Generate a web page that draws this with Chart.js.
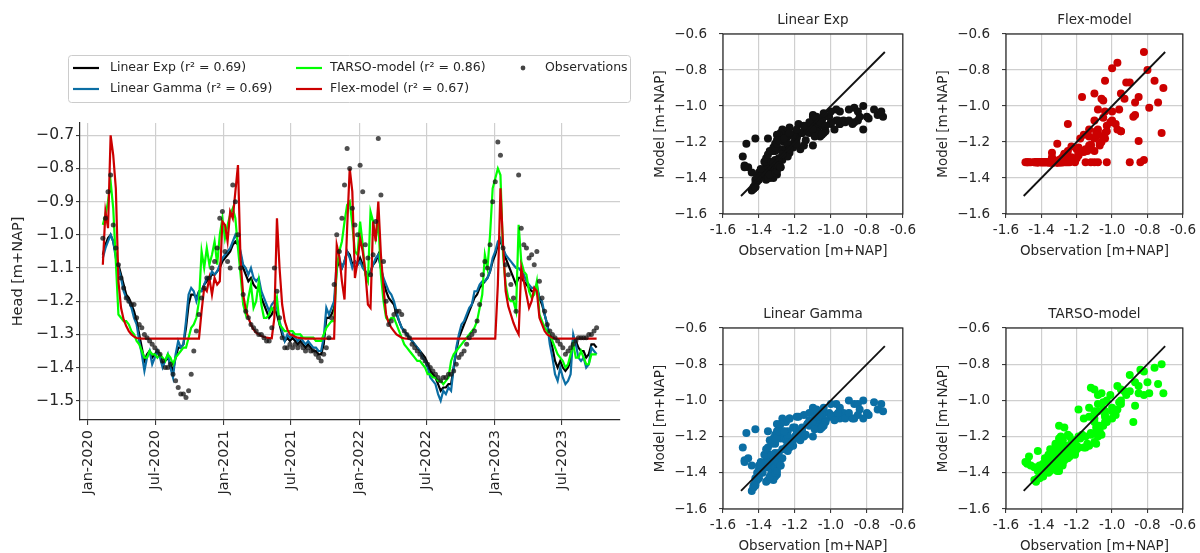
<!DOCTYPE html>
<html>
<head>
<meta charset="utf-8">
<script src="https://cdn.jsdelivr.net/npm/chart.js@4.4.1/dist/chart.umd.min.js"></script>
<style>
  html, body { margin: 0; padding: 0; background: #ffffff; width: 1200px; height: 553px; overflow: hidden; }
  canvas { position: absolute; }
</style>
</head>
<body>
<canvas id="heads" width="640" height="553" style="left:0px;top:0px"></canvas>
<canvas id="pExp" width="280" height="276" style="left:640px;top:0px"></canvas>
<canvas id="pFlex" width="280" height="276" style="left:920px;top:0px"></canvas>
<canvas id="pGamma" width="280" height="277" style="left:640px;top:276px"></canvas>
<canvas id="pTarso" width="280" height="277" style="left:920px;top:276px"></canvas>
<script>
// Weekly groundwater heads [m+NAP], first value on 2020-02-10
const firstDate = '2020-02-10';
const stepDays = 7;

const observed = [
  -1.01, -0.95, -0.87, -0.82, -0.97, -1.04, -1.09, -1.13, -1.16, -1.19,
  -1.20, -1.21, -1.21, -1.25, -1.27, -1.28, -1.30, -1.31, -1.32, -1.33,
  -1.34, -1.35, -1.36, -1.38, -1.40, -1.40, -1.39, -1.42, -1.44, -1.46,
  -1.48, -1.48, -1.49, -1.47, -1.42, -1.35, -1.29, -1.24, -1.19, -1.16,
  -1.13, -1.13, -1.10, -1.08, -1.04, -0.95, -0.93, -1.05, -1.08, -1.10,
  -0.85, -0.90, -1.00, -1.10, -1.18, -1.23, -1.25, -1.27, -1.28, -1.29,
  -1.30, -1.30, -1.31, -1.32, -1.32, -1.28, -1.10, -1.17, -1.25, -1.31,
  -1.34, -1.34, -1.33, -1.34, -1.33, -1.34, -1.33, -1.34, -1.35, -1.34,
  -1.35, -1.35, -1.36, -1.37, -1.38, -1.36, -1.34, -1.31, -1.25, -1.15,
  -1.00, -1.05, -0.95, -0.85, -0.74, -0.80, -0.92, -0.97, -1.00, -0.79,
  -0.87, -1.03, -1.07, -1.12, -1.06, -0.96, -0.71, -0.88, -1.08, -1.20,
  -1.27, -1.26, -1.24, -1.23, -1.23, -1.24, -1.29, -1.30, -1.31, -1.33,
  -1.34, -1.35, -1.36, -1.37, -1.38, -1.39, -1.40, -1.41, -1.42, -1.43,
  -1.44, -1.43, -1.43, -1.42, -1.42, -1.41, -1.39, -1.37, -1.36, -1.35,
  -1.33, -1.31, -1.30, -1.29, -1.26, -1.21, -1.12, -1.08, -1.10, -1.03,
  -0.90, -0.84, -0.72, -0.76, -1.04, -1.09, -1.12, -1.15, -1.19, -1.23,
  -0.82, -0.98, -1.03, -1.04, -1.07, -1.06, -1.09, -1.05, -1.14, -1.19,
  -1.23, -1.27, -1.29, -1.30, -1.31, -1.32, -1.33, -1.34, -1.36, -1.35,
  -1.34, -1.33, -1.32, -1.31, -1.31, -1.31, -1.31, -1.30, -1.30, -1.29,
  -1.28
];

const linearExp = [
  -1.06, -1.03, -1.01, -1.00, -1.02, -1.06, -1.09, -1.12, -1.15, -1.18,
  -1.19, -1.21, -1.23, -1.26, -1.30, -1.34, -1.38, -1.36, -1.35, -1.37,
  -1.36, -1.35, -1.36, -1.39, -1.38, -1.37, -1.39, -1.41, -1.37, -1.34,
  -1.34, -1.33, -1.28, -1.21, -1.18, -1.18, -1.19, -1.17, -1.17, -1.15,
  -1.14, -1.13, -1.12, -1.12, -1.11, -1.10, -1.08, -1.07, -1.06, -1.05,
  -1.03, -1.02, -1.03, -1.06, -1.10, -1.12, -1.14, -1.13, -1.15, -1.16,
  -1.16, -1.19, -1.21, -1.23, -1.25, -1.24, -1.22, -1.24, -1.27, -1.30,
  -1.32, -1.31, -1.32, -1.31, -1.32, -1.33, -1.32, -1.33, -1.34, -1.33,
  -1.34, -1.35, -1.35, -1.36, -1.36, -1.33, -1.25, -1.25, -1.24, -1.22,
  -1.10, -1.08, -1.10, -1.08, -1.05, -1.06, -1.09, -1.08, -1.09, -1.07,
  -1.09, -1.11, -1.12, -1.11, -1.09, -1.08, -1.06, -1.10, -1.14, -1.17,
  -1.19, -1.20, -1.21, -1.24, -1.26, -1.28, -1.29, -1.30, -1.31, -1.32,
  -1.33, -1.34, -1.35, -1.36, -1.37, -1.39, -1.41, -1.42, -1.43, -1.45,
  -1.47, -1.46, -1.46, -1.45, -1.45, -1.40, -1.35, -1.31, -1.29, -1.27,
  -1.25, -1.23, -1.21, -1.19, -1.18, -1.16, -1.15, -1.14, -1.13, -1.11,
  -1.08, -1.06, -1.03, -1.02, -1.04, -1.07, -1.09, -1.11, -1.13, -1.15,
  -1.13, -1.13, -1.14, -1.15, -1.16, -1.17, -1.17, -1.16, -1.19, -1.21,
  -1.24, -1.27, -1.31, -1.34, -1.38, -1.40, -1.38, -1.40, -1.41, -1.40,
  -1.38, -1.31, -1.32, -1.34, -1.35, -1.35, -1.37, -1.36, -1.33, -1.33,
  -1.34
];

const linearGamma = [
  -1.07, -1.04, -1.02, -1.00, -1.02, -1.07, -1.10, -1.13, -1.17, -1.19,
  -1.20, -1.22, -1.25, -1.27, -1.32, -1.36, -1.41, -1.37, -1.35, -1.39,
  -1.37, -1.35, -1.37, -1.40, -1.38, -1.36, -1.40, -1.43, -1.36, -1.32,
  -1.34, -1.33, -1.26, -1.18, -1.16, -1.17, -1.20, -1.17, -1.17, -1.15,
  -1.13, -1.13, -1.11, -1.12, -1.11, -1.09, -1.07, -1.06, -1.05, -1.04,
  -1.02, -1.00, -1.02, -1.05, -1.09, -1.10, -1.12, -1.10, -1.13, -1.14,
  -1.13, -1.17, -1.19, -1.21, -1.23, -1.21, -1.20, -1.22, -1.26, -1.29,
  -1.32, -1.30, -1.31, -1.30, -1.31, -1.32, -1.31, -1.32, -1.33, -1.32,
  -1.33, -1.34, -1.34, -1.35, -1.35, -1.31, -1.22, -1.24, -1.22, -1.20,
  -1.08, -1.07, -1.10, -1.08, -1.05, -1.07, -1.10, -1.08, -1.09, -1.08,
  -1.10, -1.11, -1.12, -1.11, -1.09, -1.07, -1.06, -1.10, -1.13, -1.15,
  -1.17, -1.18, -1.20, -1.23, -1.26, -1.28, -1.29, -1.30, -1.31, -1.32,
  -1.33, -1.34, -1.35, -1.37, -1.38, -1.40, -1.43, -1.44, -1.45, -1.48,
  -1.50, -1.47, -1.48, -1.46, -1.47, -1.40, -1.34, -1.30, -1.27, -1.26,
  -1.24, -1.22, -1.21, -1.17, -1.17, -1.15, -1.14, -1.14, -1.13, -1.11,
  -1.07, -1.05, -1.02, -1.01, -1.04, -1.06, -1.07, -1.08, -1.09, -1.10,
  -1.10, -1.11, -1.12, -1.14, -1.15, -1.16, -1.16, -1.15, -1.19, -1.20,
  -1.24, -1.27, -1.33, -1.37, -1.42, -1.44, -1.40, -1.43, -1.45, -1.44,
  -1.42, -1.30, -1.33, -1.37, -1.38, -1.37, -1.40, -1.39, -1.34, -1.35,
  -1.36
];

const tarsoModel = [
  -0.97, -0.94, -0.90, -0.84, -0.92, -1.08, -1.24, -1.25, -1.26, -1.26,
  -1.27, -1.29, -1.30, -1.32, -1.33, -1.35, -1.37, -1.37, -1.35, -1.36,
  -1.36, -1.37, -1.36, -1.37, -1.38, -1.36, -1.37, -1.39, -1.37, -1.36,
  -1.35, -1.34, -1.34, -1.31, -1.28, -1.27, -1.25, -1.20, -1.05, -1.10,
  -1.04, -1.09, -1.06, -1.02, -1.09, -1.00, -0.95, -1.01, -0.97, -0.94,
  -0.92, -0.95, -1.04, -1.12, -1.21, -1.24, -1.19, -1.15, -1.22, -1.20,
  -1.14, -1.21, -1.25, -1.25, -1.24, -1.22, -1.23, -1.19, -1.27, -1.28,
  -1.29, -1.29, -1.29, -1.29, -1.30, -1.30, -1.30, -1.31, -1.31, -1.31,
  -1.31, -1.31, -1.32, -1.32, -1.32, -1.30, -1.28, -1.27, -1.26, -1.26,
  -1.10, -1.05, -1.02, -0.96, -0.91, -0.90, -0.97, -1.05, -1.06, -0.96,
  -1.03, -1.12, -1.14, -0.93, -0.96, -1.01, -0.96, -1.12, -1.20, -1.25,
  -1.26, -1.25, -1.25, -1.27, -1.29, -1.31, -1.33, -1.34, -1.35, -1.36,
  -1.37, -1.38, -1.38, -1.39, -1.40, -1.42, -1.42, -1.43, -1.43, -1.44,
  -1.44, -1.45, -1.44, -1.43, -1.38, -1.36, -1.35, -1.34, -1.33, -1.32,
  -1.31, -1.30, -1.29, -1.28, -1.26, -1.22, -1.18, -1.06, -1.10, -1.00,
  -0.86, -0.83, -0.80, -0.82, -1.06, -1.15, -1.19, -1.20, -1.20, -1.23,
  -0.97, -1.08, -1.11, -1.12, -1.17, -1.19, -1.18, -1.14, -1.24, -1.26,
  -1.28, -1.29, -1.30, -1.32, -1.34, -1.36, -1.37, -1.38, -1.40, -1.39,
  -1.36, -1.33, -1.37, -1.37, -1.35, -1.37, -1.39, -1.39, -1.36, -1.36,
  -1.36
];

const flexModel = [
  -1.09, -0.93, -0.98, -0.70, -0.76, -0.86, -1.14, -1.22, -1.255, -1.275,
  -1.29, -1.30, -1.307, -1.311, -1.312, -1.313, -1.313, -1.313, -1.313, -1.313,
  -1.313, -1.313, -1.313, -1.313, -1.313, -1.313, -1.313, -1.313, -1.313, -1.313,
  -1.313, -1.313, -1.313, -1.313, -1.313, -1.313, -1.313, -1.313, -1.23, -1.16,
  -1.17, -1.13, -1.18, -1.13, -1.15, -1.14, -0.96, -0.97, -1.02, -0.93,
  -0.95, -0.87, -0.79, -1.08, -1.18, -1.225, -1.25, -1.27, -1.285, -1.295,
  -1.30, -1.305, -1.308, -1.31, -1.311, -1.312, -1.25, -0.95, -1.10, -1.21,
  -1.26, -1.285, -1.30, -1.303, -1.307, -1.31, -1.311, -1.312, -1.313, -1.313,
  -1.313, -1.313, -1.313, -1.313, -1.313, -1.313, -1.313, -1.313, -1.313, -1.313,
  -1.03, -1.065, -1.14, -1.195, -0.98, -0.80, -0.87, -1.13, -1.08, -1.01,
  -1.05, -1.11, -1.21, -1.22, -0.96, -1.02, -0.90, -1.06, -1.16, -1.24,
  -1.265, -1.28, -1.29, -1.30, -1.305, -1.31, -1.312, -1.313, -1.313, -1.313,
  -1.313, -1.313, -1.313, -1.313, -1.313, -1.313, -1.313, -1.313, -1.313, -1.313,
  -1.313, -1.313, -1.313, -1.313, -1.313, -1.313, -1.313, -1.313, -1.313, -1.313,
  -1.313, -1.313, -1.313, -1.313, -1.313, -1.313, -1.313, -1.313, -1.313, -1.313,
  -1.313, -1.313, -1.15, -0.86, -1.03, -1.17, -1.215, -1.24, -1.265, -1.285,
  -1.30, -1.10, -1.14, -1.18, -1.22, -1.20, -1.16, -1.17, -1.25, -1.27,
  -1.29, -1.30, -1.305, -1.31, -1.312, -1.313, -1.313, -1.313, -1.313, -1.313,
  -1.313, -1.313, -1.313, -1.313, -1.313, -1.313, -1.313, -1.313, -1.313, -1.313,
  -1.313
];

// Legend texts and goodness of fit
const modelNames = ['Linear Exp', 'Linear Gamma', 'TARSO-model', 'Flex-model'];
const modelR2 = ['0.69', '0.69', '0.86', '0.67'];
const modelColors = ['#000000', '#0b6ea4', '#00ff00', '#cc0000'];

// Axis ticks
const timeTickDates = ['2020-01-01', '2020-07-01', '2021-01-01', '2021-07-01',
                       '2022-01-01', '2022-07-01', '2023-01-01', '2023-07-01'];
const timeTickLabels = ['Jan-2020', 'Jul-2020', 'Jan-2021', 'Jul-2021',
                        'Jan-2022', 'Jul-2022', 'Jan-2023', 'Jul-2023'];
const headTicks = [-1.5, -1.4, -1.3, -1.2, -1.1, -1.0, -0.9, -0.8, -0.7];
const scatterTicks = [-1.6, -1.4, -1.2, -1.0, -0.8, -0.6];
const oneToOne = [-1.5, -0.7];

// ---------------------------------------------------------------------------
const FONT = "'DejaVu Sans', 'Liberation Sans', sans-serif";
const INK = '#262626';
Chart.defaults.font.family = FONT;
Chart.defaults.color = INK;

function dayNumber(iso) {
  const [y, m, d] = iso.split('-').map(Number);
  return (Date.UTC(y, m - 1, d) - Date.UTC(2020, 0, 1)) / 86400000;
}
const day0 = dayNumber(firstDate);
const seriesDays = observed.map((_, i) => day0 + stepDays * i);
const timeTickDays = timeTickDates.map(dayNumber);
const asSeries = vals => vals.map((y, i) => ({ x: seriesDays[i], y }));
const withMinus = v => (v < 0 ? '\u2212' : '') + Math.abs(v).toFixed(1);

// matplotlib style legend box for the time series panel
const headLegend = {
  id: 'headLegend',
  afterDraw(chart) {
    const ctx = chart.ctx;
    ctx.save();
    const bx = 68.5, by = 55.5, bw = 562, bh = 47, r = 3;
    ctx.beginPath();
    ctx.moveTo(bx + r, by);
    ctx.arcTo(bx + bw, by, bx + bw, by + bh, r);
    ctx.arcTo(bx + bw, by + bh, bx, by + bh, r);
    ctx.arcTo(bx, by + bh, bx, by, r);
    ctx.arcTo(bx, by, bx + bw, by, r);
    ctx.closePath();
    ctx.fillStyle = 'rgba(255,255,255,0.85)';
    ctx.fill();
    ctx.strokeStyle = '#cccccc';
    ctx.lineWidth = 1;
    ctx.stroke();

    ctx.font = '12.5px ' + FONT;
    ctx.textBaseline = 'middle';
    ctx.fillStyle = INK;
    const cols = [{ x0: 73, x1: 99, tx: 110 }, { x0: 296, x1: 322, tx: 330 }];
    const rows = [68, 89];
    const slots = [[0, 0], [0, 1], [1, 0], [1, 1]];
    modelNames.forEach((name, k) => {
      const c = cols[slots[k][0]], y = rows[slots[k][1]];
      ctx.strokeStyle = modelColors[k];
      ctx.lineWidth = 2.2;
      ctx.beginPath(); ctx.moveTo(c.x0, y); ctx.lineTo(c.x1, y); ctx.stroke();
      ctx.fillText(name + ' (r\u00B2 = ' + modelR2[k] + ')', c.tx, y);
    });
    ctx.fillStyle = 'rgba(20,20,20,0.8)';
    ctx.beginPath(); ctx.arc(523, rows[0], 2.4, 0, Math.PI * 2); ctx.fill();
    ctx.fillStyle = INK;
    ctx.fillText('Observations', 545, rows[0]);
    ctx.restore();
  }
};

const lineSet = (label, vals, color, order) => ({
  label, data: asSeries(vals), borderColor: color, borderWidth: 2.2,
  pointRadius: 0, tension: 0, fill: false, order
});

new Chart(document.getElementById('heads'), {
  type: 'line',
  data: {
    datasets: [
      { label: 'Observations', data: asSeries(observed), showLine: false,
        pointRadius: 2.5, pointBorderWidth: 0,
        pointBackgroundColor: 'rgba(20,20,20,0.75)', order: 0 },
      lineSet(modelNames[3], flexModel, modelColors[3], 1),
      lineSet(modelNames[2], tarsoModel, modelColors[2], 2),
      lineSet(modelNames[1], linearGamma, modelColors[1], 3),
      lineSet(modelNames[0], linearExp, modelColors[0], 4)
    ]
  },
  options: {
    responsive: false, animation: false, devicePixelRatio: 1,
    layout: { padding: { left: 0, right: 20, top: 123, bottom: 0 } },
    plugins: { legend: { display: false }, tooltip: { enabled: false } },
    scales: {
      x: {
        type: 'linear', min: -21.5, max: 1433,
        afterBuildTicks: s => { s.ticks = timeTickDays.map(value => ({ value })); },
        afterFit: s => { s.height = 133; },
        ticks: { autoSkip: false, minRotation: 90, maxRotation: 90, padding: 5,
                 font: { size: 14.5 }, color: INK,
                 callback: (v, i) => timeTickLabels[i] },
        grid: { color: '#cfcfcf', lineWidth: 1.2, tickLength: 5, tickColor: INK, tickWidth: 1 },
        border: { display: true, color: INK, width: 1.2 }
      },
      y: {
        min: -1.558, max: -0.663,
        afterBuildTicks: s => { s.ticks = headTicks.map(value => ({ value })); },
        afterFit: s => { s.width = 80; },
        ticks: { padding: 2, font: { size: 15.5 }, color: INK, callback: v => withMinus(v) },
        grid: { color: '#cfcfcf', lineWidth: 1.2, tickLength: 4, tickColor: INK, tickWidth: 1 },
        border: { display: true, color: INK, width: 1.2 },
        title: { display: true, text: 'Head [m+NAP]', font: { size: 14.5 }, color: INK,
                 padding: { top: 10, bottom: 0 } }
      }
    }
  },
  plugins: [headLegend]
});

// ---------------------------------------------------------------------------
// Observation vs model scatter panels
const boxFrame = {
  id: 'boxFrame',
  afterDatasetsDraw(chart) {
    const { ctx, chartArea: a } = chart;
    ctx.save();
    ctx.strokeStyle = INK;
    ctx.lineWidth = 1.2;
    ctx.strokeRect(a.left, a.top, a.right - a.left, a.bottom - a.top);
    ctx.restore();
  }
};
const panelTitle = {
  id: 'panelTitle',
  afterDraw(chart, args, opts) {
    const { ctx, chartArea: a } = chart;
    ctx.save();
    ctx.font = '13.5px ' + FONT;
    ctx.fillStyle = INK;
    ctx.textAlign = 'center';
    ctx.textBaseline = 'middle';
    ctx.fillText(opts.text, (a.left + a.right) / 2, a.top - 13.5);
    ctx.restore();
  }
};

function scatterPanel(id, title, modelVals, color, geo) {
  const pairs = observed.map((o, i) => ({ x: o, y: modelVals[i] }));
  new Chart(document.getElementById(id), {
    type: 'scatter',
    data: {
      datasets: [
        { type: 'line', data: oneToOne.map(v => ({ x: v, y: v })), borderColor: '#111111',
          borderWidth: 1.8, pointRadius: 0, order: 0 },
        { data: pairs, pointRadius: 4, pointBorderWidth: 0,
          pointBackgroundColor: color, order: 1 }
      ]
    },
    options: {
      responsive: false, animation: false, devicePixelRatio: 1,
      layout: { padding: { left: 0, right: geo.right, top: geo.top, bottom: 0 } },
      plugins: { legend: { display: false }, tooltip: { enabled: false },
                 panelTitle: { text: title } },
      scales: {
        x: {
          type: 'linear', min: -1.6, max: -0.6,
          afterBuildTicks: s => { s.ticks = scatterTicks.map(value => ({ value })); },
          afterFit: s => { s.height = geo.xh; },
          ticks: { padding: 4, font: { size: 13.5 }, color: INK, maxRotation: 0,
                   callback: v => v.toFixed(1) },
          grid: { color: '#cfcfcf', lineWidth: 1.2, tickLength: 4, tickColor: INK, tickWidth: 1 },
          border: { display: false },
          title: { display: true, text: 'Observation [m+NAP]', font: { size: 13.5 }, color: INK,
                   padding: { top: 0, bottom: geo.xt } }
        },
        y: {
          type: 'linear', min: -1.6, max: -0.6,
          afterBuildTicks: s => { s.ticks = scatterTicks.map(value => ({ value })); },
          afterFit: s => { s.width = geo.yw; },
          ticks: { padding: 12, font: { size: 13.5 }, color: INK, callback: v => withMinus(v) },
          grid: { color: '#cfcfcf', lineWidth: 1.2, tickLength: 4, tickColor: INK, tickWidth: 1 },
          border: { display: false },
          title: { display: true, text: 'Model [m+NAP]', font: { size: 13.5 }, color: INK,
                   padding: { top: geo.yt, bottom: 0 } }
        }
      }
    },
    plugins: [boxFrame, panelTitle]
  });
}

scatterPanel('pExp', 'Linear Exp', linearExp, '#111111',
  { yw: 83, right: 17, top: 34, xh: 62, xt: 16, yt: 12.6 });
scatterPanel('pFlex', 'Flex-model', flexModel, '#cc0000',
  { yw: 86, right: 14, top: 34, xh: 62, xt: 16, yt: 15.2 });
scatterPanel('pGamma', 'Linear Gamma', linearGamma, '#0b6ea4',
  { yw: 83, right: 17, top: 52, xh: 44, xt: -2, yt: 12.6 });
scatterPanel('pTarso', 'TARSO-model', tarsoModel, '#00ff00',
  { yw: 86, right: 14, top: 52, xh: 44, xt: -2, yt: 15.2 });
</script>
</body>
</html>
